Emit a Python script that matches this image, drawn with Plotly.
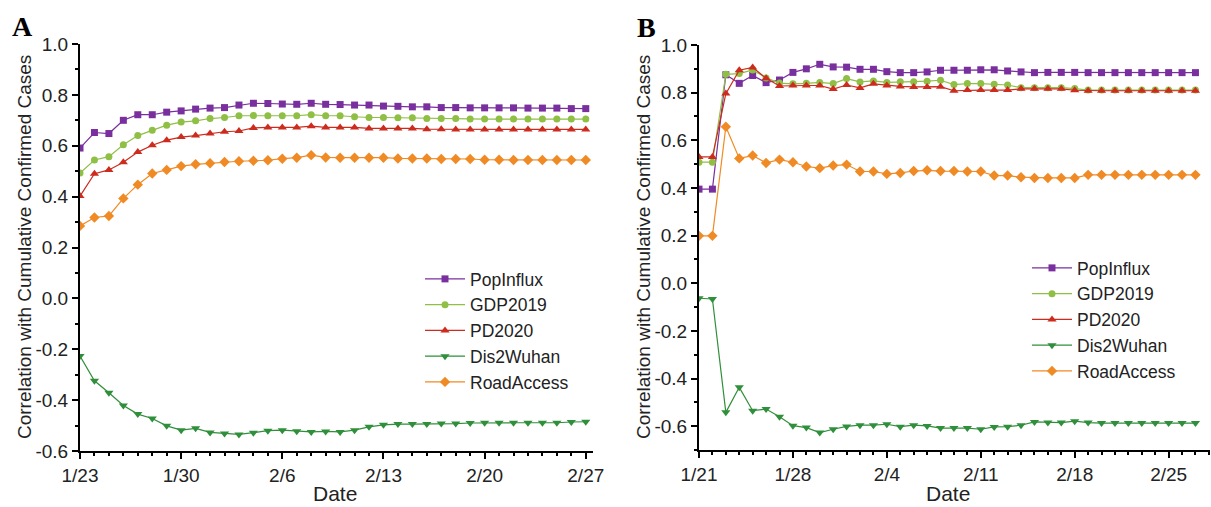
import plotly.graph_objects as go

# ---------------- data ----------------
dates_a = ["2020-01-23","2020-01-24","2020-01-25","2020-01-26","2020-01-27","2020-01-28","2020-01-29",
           "2020-01-30","2020-01-31","2020-02-01","2020-02-02","2020-02-03","2020-02-04","2020-02-05",
           "2020-02-06","2020-02-07","2020-02-08","2020-02-09","2020-02-10","2020-02-11","2020-02-12",
           "2020-02-13","2020-02-14","2020-02-15","2020-02-16","2020-02-17","2020-02-18","2020-02-19",
           "2020-02-20","2020-02-21","2020-02-22","2020-02-23","2020-02-24","2020-02-25","2020-02-26",
           "2020-02-27"]
dates_b = ["2020-01-21","2020-01-22"] + dates_a

a_popinflux = [0.591,0.652,0.648,0.700,0.722,0.722,0.732,0.737,0.744,0.748,0.750,0.760,0.767,0.766,
               0.764,0.763,0.767,0.763,0.762,0.760,0.760,0.756,0.755,0.753,0.753,0.750,0.750,0.749,
               0.749,0.749,0.749,0.748,0.748,0.748,0.746,0.746]
a_gdp2019 = [0.493,0.544,0.557,0.604,0.640,0.661,0.681,0.693,0.698,0.707,0.711,0.718,0.719,0.718,
             0.718,0.718,0.722,0.718,0.718,0.714,0.711,0.711,0.710,0.710,0.707,0.707,0.707,0.705,
             0.705,0.705,0.705,0.705,0.705,0.705,0.705,0.705]
a_pd2020 = [0.402,0.490,0.505,0.535,0.575,0.602,0.622,0.634,0.640,0.648,0.655,0.658,0.670,0.672,
            0.672,0.672,0.677,0.672,0.672,0.672,0.668,0.668,0.668,0.668,0.665,0.665,0.664,0.664,
            0.664,0.664,0.664,0.664,0.664,0.664,0.664,0.664]
a_dis2wuhan = [-0.227,-0.324,-0.371,-0.421,-0.455,-0.472,-0.501,-0.518,-0.511,-0.527,-0.531,-0.535,
               -0.528,-0.520,-0.518,-0.522,-0.525,-0.523,-0.525,-0.518,-0.505,-0.497,-0.494,-0.494,
               -0.494,-0.492,-0.492,-0.490,-0.489,-0.489,-0.489,-0.489,-0.489,-0.489,-0.486,-0.485]
a_roadaccess = [0.285,0.318,0.324,0.393,0.447,0.491,0.505,0.520,0.527,0.531,0.536,0.539,0.541,0.543,
                0.549,0.553,0.563,0.554,0.553,0.553,0.553,0.553,0.550,0.550,0.550,0.548,0.548,0.548,
                0.545,0.545,0.544,0.544,0.544,0.544,0.544,0.544]

b_popinflux = [0.395,0.395,0.875,0.839,0.872,0.842,0.853,0.885,0.900,0.919,0.908,0.907,0.898,0.898,
               0.888,0.884,0.884,0.887,0.894,0.894,0.894,0.896,0.896,0.891,0.887,0.884,0.885,0.885,
               0.885,0.884,0.884,0.884,0.884,0.884,0.884,0.884,0.884,0.884]
b_gdp2019 = [0.508,0.508,0.877,0.880,0.895,0.862,0.840,0.837,0.839,0.843,0.838,0.859,0.845,0.849,
             0.843,0.846,0.846,0.848,0.852,0.834,0.838,0.838,0.835,0.832,0.821,0.821,0.821,0.821,
             0.817,0.811,0.811,0.811,0.811,0.811,0.811,0.811,0.811,0.811]
b_pd2020 = [0.530,0.530,0.796,0.894,0.906,0.860,0.828,0.830,0.830,0.830,0.815,0.832,0.820,0.837,
            0.830,0.826,0.824,0.824,0.825,0.808,0.811,0.811,0.811,0.811,0.816,0.816,0.816,0.816,
            0.810,0.808,0.808,0.808,0.808,0.808,0.808,0.808,0.808,0.808]
b_dis2wuhan = [-0.063,-0.066,-0.542,-0.437,-0.535,-0.528,-0.560,-0.598,-0.606,-0.627,-0.613,-0.601,
               -0.596,-0.596,-0.592,-0.602,-0.596,-0.599,-0.608,-0.608,-0.608,-0.613,-0.603,-0.602,
               -0.596,-0.582,-0.585,-0.585,-0.579,-0.585,-0.587,-0.587,-0.587,-0.587,-0.587,-0.587,
               -0.587,-0.587]
b_roadaccess = [0.199,0.199,0.657,0.524,0.536,0.505,0.519,0.508,0.490,0.483,0.494,0.498,0.469,0.469,
                0.459,0.463,0.471,0.474,0.471,0.471,0.469,0.469,0.452,0.452,0.445,0.442,0.442,0.442,
                0.442,0.455,0.455,0.455,0.455,0.455,0.455,0.455,0.455,0.455]

series_names = ["PopInflux", "GDP2019", "PD2020", "Dis2Wuhan", "RoadAccess"]
a_series = [a_popinflux, a_gdp2019, a_pd2020, a_dis2wuhan, a_roadaccess]
b_series = [b_popinflux, b_gdp2019, b_pd2020, b_dis2wuhan, b_roadaccess]

a_tickvals = ["2020-01-23","2020-01-30","2020-02-06","2020-02-13","2020-02-20","2020-02-27"]
a_ticktext = ["1/23","1/30","2/6","2/13","2/20","2/27"]
b_tickvals = ["2020-01-21","2020-01-28","2020-02-04","2020-02-11","2020-02-18","2020-02-25"]
b_ticktext = ["1/21","1/28","2/4","2/11","2/18","2/25"]
y_tickvals = [-0.6,-0.4,-0.2,0.0,0.2,0.4,0.6,0.8,1.0]
y_ticktext = ["-0.6","-0.4","-0.2","0.0","0.2","0.4","0.6","0.8","1.0"]

# ---------------- styles ----------------
colors = ["#7a2f9e", "#8fbf45", "#cc2b1d", "#2f8f3a", "#f08a24"]
symbols = ["square", "circle", "triangle-up", "triangle-down", "diamond"]
msizes = [7, 7, 8, 8, 8]
FONT = "Liberation Sans, Arial, sans-serif"
SERIF = "Liberation Serif, Times New Roman, serif"

fig = go.Figure()
for i, name in enumerate(series_names):
    fig.add_trace(go.Scatter(
        x=dates_a, y=a_series[i], name=name, mode="lines+markers",
        line=dict(color=colors[i], width=1.2),
        marker=dict(symbol=symbols[i], size=msizes[i], color=colors[i]),
        xaxis="x", yaxis="y", legend="legend"))
for i, name in enumerate(series_names):
    fig.add_trace(go.Scatter(
        x=dates_b, y=b_series[i], name=name, mode="lines+markers",
        line=dict(color=colors[i], width=1.2),
        marker=dict(symbol=symbols[i], size=msizes[i], color=colors[i]),
        xaxis="x2", yaxis="y2", legend="legend2"))

W, H = 1211, 507
def px_x(p): return p / W
def px_y(p): return 1 - p / H

axis_common = dict(showline=True, linecolor="black", linewidth=2, showgrid=False,
                   zeroline=False, ticks="outside", ticklen=6, tickwidth=1.5, tickcolor="black",
                   automargin=False,
                   tickfont=dict(family=FONT, size=19, color="#222"))
minor_y = dict(ticks="outside", ticklen=3, tickcolor="black", dtick=0.1, tick0=0, showgrid=False)

def ann(text, x, y, size, family=FONT, angle=0, color="#222"):
    return dict(text=text, x=px_x(x), y=px_y(y), xref="paper", yref="paper",
                xanchor="center", yanchor="middle", textangle=angle, showarrow=False,
                font=dict(family=family, size=size, color=color))

fig.update_layout(
    width=W, height=H, margin=dict(l=0, r=0, t=0, b=0, autoexpand=False),
    paper_bgcolor="white", plot_bgcolor="white",
    font=dict(family=FONT, color="#222"),
    xaxis=dict(domain=[px_x(80), px_x(593)], anchor="y", type="date",
               range=["2020-01-23", "2020-02-27 12:00"],
               tickvals=a_tickvals, ticktext=a_ticktext,
               minor=dict(ticks="outside", ticklen=3, tickcolor="black", dtick=86400000,
                          tick0="2020-01-23", showgrid=False),
               **axis_common),
    yaxis=dict(domain=[px_y(451), px_y(44)], anchor="x", range=[-0.6, 1.0],
               tickvals=y_tickvals, ticktext=y_ticktext, minor=minor_y, **axis_common),
    xaxis2=dict(domain=[px_x(699), px_x(1210)], anchor="y2", type="date",
                range=["2020-01-21", "2020-02-28 02:00"],
                tickvals=b_tickvals, ticktext=b_ticktext,
                minor=dict(ticks="outside", ticklen=3, tickcolor="black", dtick=86400000,
                           tick0="2020-01-21", showgrid=False),
                **axis_common),
    yaxis2=dict(domain=[px_y(450), px_y(45)], anchor="x2", range=[-0.7, 1.0],
                tickvals=y_tickvals, ticktext=y_ticktext, minor=minor_y, **axis_common),
    legend=dict(x=px_x(420), y=px_y(261), xanchor="left", yanchor="top",
                font=dict(family=FONT, size=17.5, color="#222"), bgcolor="rgba(0,0,0,0)",
                tracegroupgap=0, itemwidth=40),
    legend2=dict(x=px_x(1027), y=px_y(250), xanchor="left", yanchor="top",
                 font=dict(family=FONT, size=17.5, color="#222"), bgcolor="rgba(0,0,0,0)",
                 tracegroupgap=0, itemwidth=40),
    annotations=[
        ann("<b>A</b>", 22, 26, 28, family=SERIF, color="black"),
        ann("<b>B</b>", 646, 27, 28, family=SERIF, color="black"),
        ann("Correlation with Cumulative Confirmed Cases", 24, 247, 19, angle=-90),
        ann("Correlation with Cumulative Confirmed Cases", 643, 247, 19, angle=-90),
        ann("Date", 335, 493, 21),
        ann("Date", 948, 493, 21),
    ],
)

fig.write_html("out.html")
